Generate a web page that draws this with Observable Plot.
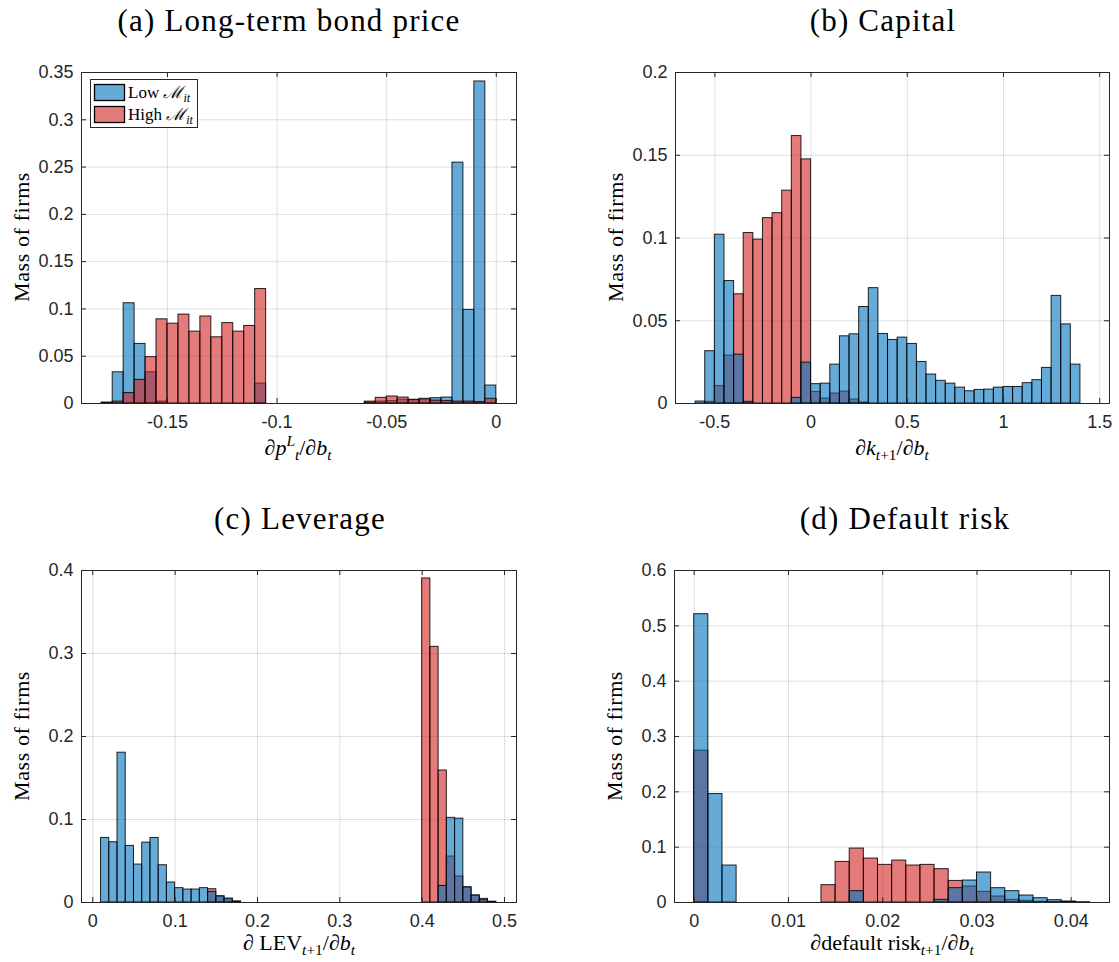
<!DOCTYPE html>
<html><head><meta charset="utf-8">
<script src="https://cdn.jsdelivr.net/npm/d3@7"></script>
<script src="https://cdn.jsdelivr.net/npm/@observablehq/plot@0.6"></script>
<style>
body{margin:0;background:#fff;}
#fig{position:relative;width:1119px;height:962px;background:#fff;overflow:hidden;}
#fig > svg{position:absolute;}
</style></head><body><div id="fig"></div>
<script>
// ---------------- DATA ----------------
const seriesNames = ["Low", "High"];

// (a) Long-term bond price: bins of width 0.005 starting at -0.18
const aTitle = "(a) Long-term bond price";
const aBinStart = -0.18, aBinWidth = 0.005;
const aLow  = [0.001,0.033,0.106,0.063,0.033,0.002,0,0,0,0,0,0,0,0,0.021,0,
               0,0,0,0,0,0,0,0,
               0.001,0.002,0.0025,0.004,0.0035,0.004,0.0056,0.0063,0.2547,0.099,0.3405,0.019];
const aHigh = [0.0005,0.002,0.011,0.025,0.049,0.089,0.0844,0.094,0.076,0.092,0.070,0.085,0.076,0.082,0.121,0,
               0,0,0,0,0,0,0,0,
               0.002,0.006,0.0074,0.0063,0.004,0.005,0.003,0.0025,0.002,0.002,0.0015,0.005];
const aXTicks = [-0.15,-0.1,-0.05,0];
const aYTicks = [0,0.05,0.1,0.15,0.2,0.25,0.3,0.35];

// (b) Capital: bins of width 0.05 starting at -0.6
const bTitle = "(b) Capital";
const bBinStart = -0.6, bBinWidth = 0.05;
const bLow  = [0.0012,0.0316,0.102,0.074,0.0295,0.001,0,0,0,0,
               0.0034,0.0247,0.0117,0.012,0.0235,0.0406,0.0418,0.0583,0.0697,0.042,
               0.0384,0.0398,0.036,0.0251,0.0175,0.0137,0.012,0.0096,0.0074,0.0082,
               0.0084,0.0096,0.010,0.010,0.0123,0.0141,0.0215,0.065,0.0478,0.0235];
const bHigh = [0,0.001,0.0105,0.029,0.066,0.103,0.099,0.112,0.115,0.1286,
               0.1616,0.1475,0.007,0.003,0.006,0.0072,0.0024,0.0006,0,0,
               0,0,0,0,0,0,0,0,0,0,
               0,0,0,0,0,0,0,0,0,0];
const bXTicks = [-0.5,0,0.5,1,1.5];
const bYTicks = [0,0.05,0.1,0.15,0.2];

// (c) Leverage: bins of width 0.01 starting at 0.01
const cTitle = "(c) Leverage";
const cBinStart = 0.01, cBinWidth = 0.01;
const cLow  = [0.0778,0.0726,0.1805,0.0682,0.0457,0.0722,0.0778,0.0449,0.0241,0.0173,
               0.0156,0.0156,0.0173,0.0128,0.0076,0.0048,0.0012,0,0,0,
               0,0,0,0,0,0,0,0,0,0,
               0,0,0,0,0,0,0,0,0,0,
               0,0.020,0.102,0.101,0.0185,0.0084,0.0028,0.0008];
const cHigh = [0,0,0,0,0,0,0,0,0,0,
               0,0,0,0.016,0.007,0.004,0.001,0,0,0,
               0,0,0,0,0,0,0,0,0,0,
               0,0,0,0,0,0,0,0,0,0.3904,
               0.308,0.159,0.0554,0.0313,0.0177,0.0084,0.0044,0.0008];
const cXTicks = [0,0.1,0.2,0.3,0.4,0.5];
const cYTicks = [0,0.1,0.2,0.3,0.4];

// (d) Default risk: bins of width 0.0015 starting at 0
const dTitle = "(d) Default risk";
const dBinStart = 0, dBinWidth = 0.0015;
const dLow  = [0.521,0.196,0.0668,0,0,0,0,0,0,0,
               0,0.0205,0,0,0,0,0,0.0048,0.0259,0.0397,
               0.0542,0.0259,0.0205,0.0126,0.0078,0.0042,0.0018,0.0006];
const dHigh = [0.2744,0,0,0,0,0,0,0,0,0.0313,
               0.0734,0.0975,0.0794,0.068,0.0758,0.0668,0.068,0.0602,0.039,0.0289,
               0.0193,0.0108,0.0048,0.003,0.0012,0.001,0.0008,0];
const dXTicks = [0,0.01,0.02,0.03,0.04];
const dYTicks = [0,0.1,0.2,0.3,0.4,0.5,0.6];

// ---------------- STYLE ----------------
const BLUE = "#0072BD", RED = "#D42222", ALPHA = 0.6;
const INK = "#262626";
const SERIF = "'Liberation Serif', 'Times New Roman', serif";
const SANS = "'Liberation Sans', Arial, Helvetica, sans-serif";
const fmt = d => String(Math.round(d * 1e6) / 1e6);

const fig = document.getElementById("fig");

function panel(cfg) {
  const {start, width, low, high, xDomain, xTicks, yMax, yTicks, highOnTop,
         svgLeft, svgTop, svgW, svgH, pl, pr, pt, pb} = cfg;
  const bins = low.map((v, i) => ({x1: start + i * width, x2: start + (i + 1) * width, low: v, high: high[i]}));
  const pw = pr - pl, ph = pb - pt;
  const lowMark = Plot.rectY(bins.filter(d => d.low > 0), {x1: "x1", x2: "x2", y: "low", fill: BLUE, fillOpacity: ALPHA, stroke: "#000", strokeWidth: 1, strokeOpacity: 0.85});
  const highMark = Plot.rectY(bins.filter(d => d.high > 0), {x1: "x1", x2: "x2", y: "high", fill: RED, fillOpacity: ALPHA, stroke: "#000", strokeWidth: 1, strokeOpacity: 0.85});
  const chart = Plot.plot({
    width: svgW, height: svgH,
    marginLeft: pl - svgLeft, marginRight: svgLeft + svgW - pr,
    marginTop: pt - svgTop, marginBottom: svgTop + svgH - pb,
    x: {domain: xDomain},
    y: {domain: [0, yMax]},
    style: {fontFamily: SANS, fontSize: "18px", color: INK, background: "transparent", overflow: "visible"},
    marks: [
      Plot.gridX(xTicks, {x: d => d, stroke: "#000", strokeOpacity: 0.12}),
      Plot.gridY(yTicks, {y: d => d, stroke: "#000", strokeOpacity: 0.12}),
      ...(highOnTop ? [lowMark, highMark] : [highMark, lowMark]),
      Plot.frame({stroke: INK, strokeWidth: 1}),
      Plot.tickX(xTicks, {x: d => d, stroke: INK, insetTop: ph - 5}),
      Plot.tickX(xTicks, {x: d => d, stroke: INK, insetBottom: ph - 5}),
      Plot.tickY(yTicks, {y: d => d, stroke: INK, insetRight: pw - 5}),
      Plot.tickY(yTicks, {y: d => d, stroke: INK, insetLeft: pw - 5}),
      Plot.axisX(xTicks, {tickSize: 0, tickPadding: 12, tickFormat: fmt, label: null, fill: INK}),
      Plot.axisY(yTicks, {tickSize: 0, tickPadding: 8, tickFormat: fmt, label: null, fill: INK})
    ]
  });
  chart.style.left = svgLeft + "px";
  chart.style.top = svgTop + "px";
  fig.appendChild(chart);
}

panel({start: aBinStart, width: aBinWidth, low: aLow, high: aHigh, xDomain: [-0.18923, 0.00922], xTicks: aXTicks,
       yMax: 0.35, yTicks: aYTicks, highOnTop: true,
       svgLeft: 0, svgTop: 45, svgW: 560, svgH: 450, pl: 81, pr: 516, pt: 72, pb: 403});
panel({start: bBinStart, width: bBinWidth, low: bLow, high: bHigh, xDomain: [-0.7045, 1.551], xTicks: bXTicks,
       yMax: 0.2, yTicks: bYTicks, highOnTop: false,
       svgLeft: 560, svgTop: 45, svgW: 559, svgH: 450, pl: 675, pr: 1109, pt: 72, pb: 403});
panel({start: cBinStart, width: cBinWidth, low: cLow, high: cHigh, xDomain: [-0.01373, 0.5146], xTicks: cXTicks,
       yMax: 0.4, yTicks: cYTicks, highOnTop: false,
       svgLeft: 0, svgTop: 540, svgW: 560, svgH: 420, pl: 81, pr: 516, pt: 570, pb: 902});
panel({start: dBinStart, width: dBinWidth, low: dLow, high: dHigh, xDomain: [-0.00209, 0.04406], xTicks: dXTicks,
       yMax: 0.6, yTicks: dYTicks, highOnTop: false,
       svgLeft: 560, svgTop: 540, svgW: 559, svgH: 420, pl: 674, pr: 1109, pt: 570, pb: 902});

// ---------------- TEXT OVERLAY ----------------
const ov = d3.select(fig).append("svg")
  .attr("width", 1119).attr("height", 962)
  .style("left", "0px").style("top", "0px")
  .style("font-family", SERIF).style("fill", "#000");

function title(txt, x, y) {
  ov.append("text").attr("x", x).attr("y", y).attr("text-anchor", "middle")
    .style("font-size", "31px").style("letter-spacing", "1.2px").text(txt);
}
title(aTitle, 289, 31);
title(bTitle, 883, 31);
title(cTitle, 300, 529);
title(dTitle, 905, 529);

function ylabel(x, y) {
  ov.append("text").attr("transform", `translate(${x},${y}) rotate(-90)`).attr("text-anchor", "middle")
    .style("font-size", "22px").style("letter-spacing", "0.6px").text("Mass of firms");
}
ylabel(29, 237); ylabel(623, 237); ylabel(29, 736); ylabel(622, 736);

// math-like label: parts {t, it, sh (px shift down), fs (scale), dx}
function mathLabel(x, y, parts, size) {
  const t = ov.append("text").attr("x", x).attr("y", y).attr("text-anchor", "middle").style("font-size", size + "px");
  let cur = 0;
  parts.forEach(p => {
    const sh = p.sh || 0;
    const s = t.append("tspan").text(p.t)
      .attr("dy", sh - cur)
      .style("font-size", (size * (p.fs || 1)) + "px")
      .style("font-style", p.it ? "italic" : "normal");
    if (p.dx) s.attr("dx", p.dx);
    cur = sh;
  });
}
const SUB = {sh: 5, fs: 0.7}, SUP = {sh: -9, fs: 0.7};
mathLabel(298, 455, [
  {t: "∂"}, {t: "p", it: true}, {t: "L", it: true, ...SUP}, {t: "t", it: true, ...SUB},
  {t: "/∂"}, {t: "b", it: true}, {t: "t", it: true, ...SUB}
], 22);
mathLabel(892, 455, [
  {t: "∂"}, {t: "k", it: true}, {t: "t", it: true, ...SUB}, {t: "+1", ...SUB},
  {t: "/∂"}, {t: "b", it: true}, {t: "t", it: true, ...SUB}
], 22);
mathLabel(299, 950, [
  {t: "∂ LEV"}, {t: "t", it: true, ...SUB}, {t: "+1", ...SUB},
  {t: "/∂"}, {t: "b", it: true}, {t: "t", it: true, ...SUB}
], 22);
mathLabel(892, 950, [
  {t: "∂default risk"}, {t: "t", it: true, ...SUB}, {t: "+1", ...SUB},
  {t: "/∂"}, {t: "b", it: true}, {t: "t", it: true, ...SUB}
], 22);

// legend in panel (a)
const lg = ov.append("g");
lg.append("rect").attr("x", 90.5).attr("y", 79.5).attr("width", 107).attr("height", 48)
  .attr("fill", "#fff").attr("stroke", INK).attr("stroke-width", 1);
[[BLUE, seriesNames[0], 84.5, 98], [RED, seriesNames[1], 106.5, 120]].forEach(([c, name, ry, ty]) => {
  lg.append("rect").attr("x", 94.5).attr("y", ry).attr("width", 30).attr("height", 16)
    .attr("fill", c).attr("fill-opacity", ALPHA).attr("stroke", "#000").attr("stroke-width", 1.3);
  const t = lg.append("text").attr("x", 128).attr("y", ty).style("font-size", "17px");
  t.append("tspan").text(name + " ");
  t.append("tspan").text("ℳ").style("font-style", "italic");
  t.append("tspan").text("it").style("font-style", "italic").style("font-size", "12px").attr("dy", 4);
});
</script></body></html>
